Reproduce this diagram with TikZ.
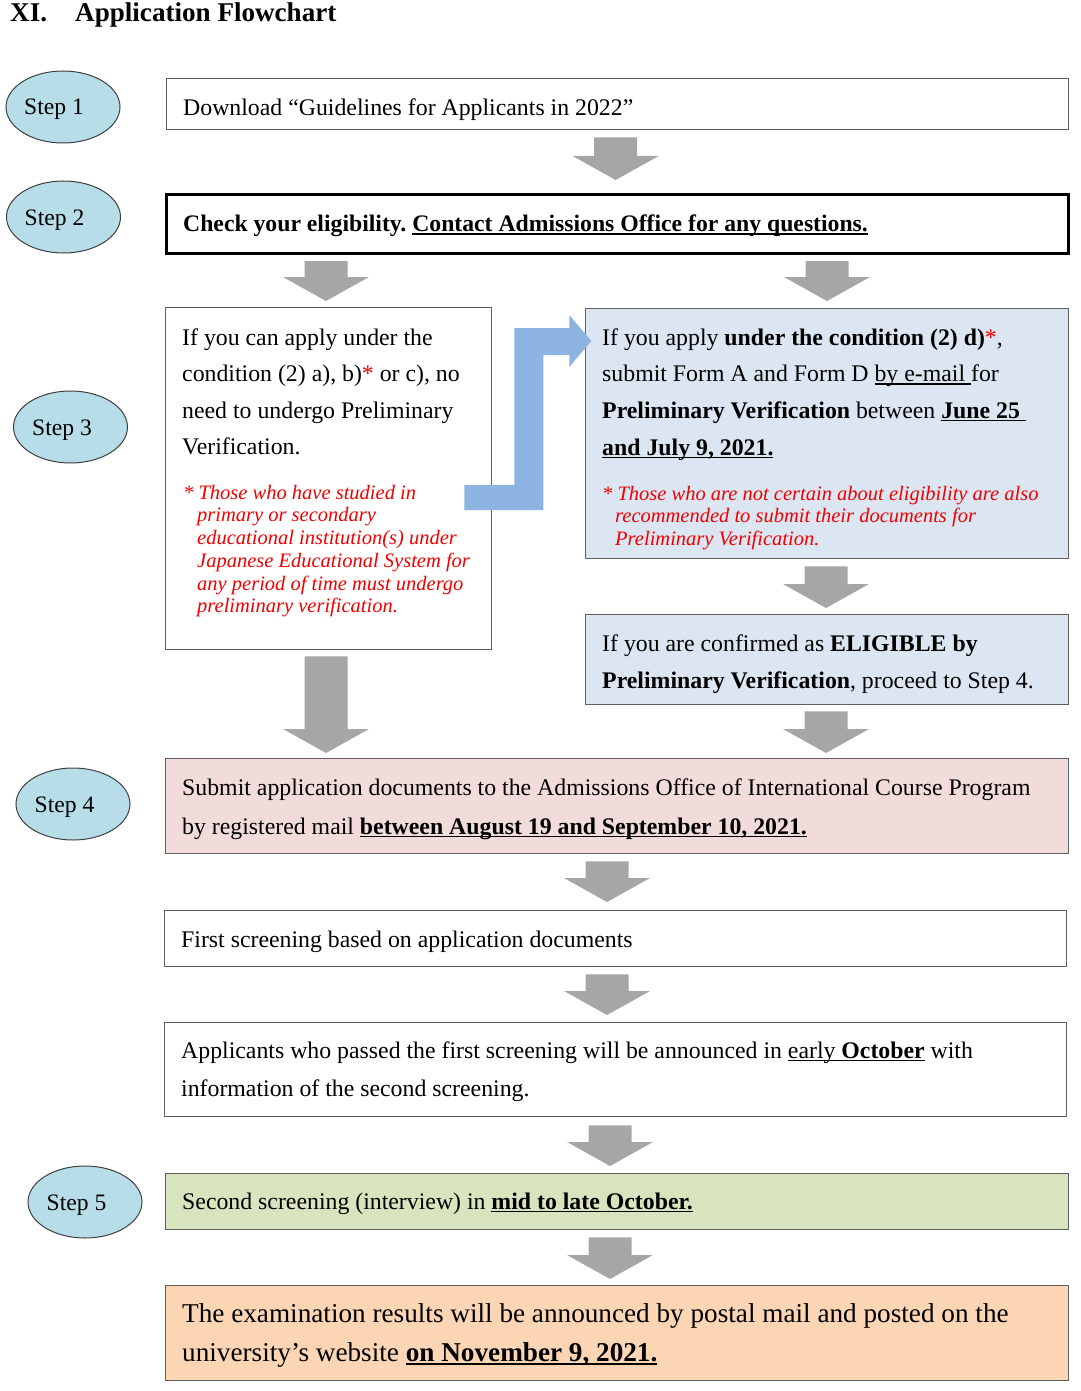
\documentclass[tikz,border=0pt]{standalone}
\usepackage{fontspec}
\setmainfont{Liberation Serif}
\usetikzlibrary{shapes.geometric,calc}
\frenchspacing
\definecolor{stepfill}{HTML}{B7DDE8}
\definecolor{stepline}{HTML}{404040}
\definecolor{boxline}{HTML}{606060}
\definecolor{bluefill}{HTML}{DCE6F2}
\definecolor{pinkfill}{HTML}{F2DCDB}
\definecolor{greenfill}{HTML}{D7E4BD}
\definecolor{orangefill}{HTML}{FCD5B5}
\definecolor{arrowgray}{HTML}{A6A6A6}
\definecolor{arrowblue}{HTML}{8DB3E2}
\definecolor{notered}{HTML}{F00000}
\newlength\myulw
\newcommand\myul[1]{\settowidth{\myulw}{#1}\rlap{\rule[-0.13em]{\myulw}{0.065em}}#1}
\newcommand\blockarrow[2]{%
  \fill[arrowgray] let \p1=#1, \p2=#2 in
    (\x1-21.5pt,\y1) -- (\x1+21.5pt,\y1) -- (\x1+21.5pt,\y2+24pt) -- (\x1+43pt,\y2+24pt)
    -- (\x1,\y2) -- (\x1-43pt,\y2+24pt) -- (\x1-21.5pt,\y2+24pt) -- cycle;}
\tikzset{
  stepnode/.style={ellipse, draw=stepline, line width=1pt, fill=stepfill, minimum width=114pt,
    minimum height=72pt, inner sep=0pt},
  steptxt/.style={inner sep=0pt, anchor=base, font=\fontsize{23.6}{28}\selectfont},
  box/.style={draw=boxline, line width=1.3pt, inner sep=0pt, anchor=north west},
  txt/.style={inner sep=0pt, anchor=base west, font=\fontsize{23.8}{28}\selectfont\frenchspacing},
  bigtxt/.style={inner sep=0pt, anchor=base west, font=\fontsize{27.2}{32}\selectfont\frenchspacing},
  note/.style={inner sep=0pt, anchor=base west, text=notered, font=\fontsize{20.5}{24}\selectfont\itshape\frenchspacing},
}
\begin{document}
\begin{tikzpicture}[x=1pt,y=-1pt]
\useasboundingbox (0,0) rectangle (1080,1391);
% title
\node[inner sep=0pt, anchor=base west, font=\fontsize{27.1}{30}\selectfont\bfseries] (tA) at (10,22) {XI.};
\node[inner sep=0pt, anchor=base west, font=\fontsize{27.1}{30}\selectfont\bfseries] (tB) at (75,22) {Application Flowchart};
% steps
\node[stepnode] (s1) at (63,107) {};
\node[stepnode] (s2) at (63.5,217) {};
\node[stepnode] (s3) at (70.5,427) {};
\node[stepnode] (s4) at (73,804) {};
\node[stepnode] (s5) at (85,1202) {};
\node[steptxt] (s1t) at ($(s1.center)+(-9,8)$) {Step 1};
\node[steptxt] (s2t) at ($(s2.center)+(-9,8)$) {Step 2};
\node[steptxt] (s3t) at ($(s3.center)+(-8.5,8)$) {Step 3};
\node[steptxt] (s4t) at ($(s4.center)+(-8.5,8)$) {Step 4};
\node[steptxt] (s5t) at ($(s5.center)+(-8.5,8)$) {Step 5};
% boxes
\node[box, minimum width=902pt, minimum height=51pt] (b1) at (166,78) {};
\node[box, draw=black, line width=3pt, minimum width=902pt, minimum height=59pt] (b2) at (165,193) {};
\node[box, minimum width=326pt, minimum height=342pt] (b3l) at (165,307) {};
\node[box, fill=bluefill, minimum width=483pt, minimum height=250pt] (b3r) at (585,308) {};
\node[box, fill=bluefill, minimum width=483pt, minimum height=90pt] (be) at (585,614) {};
\node[box, fill=pinkfill, minimum width=903pt, minimum height=95pt] (b4) at (165,758) {};
\node[box, minimum width=902pt, minimum height=56pt] (b5) at (164,910) {};
\node[box, minimum width=902pt, minimum height=94pt] (b6) at (164,1022) {};
\node[box, fill=greenfill, minimum width=903pt, minimum height=56pt] (b7) at (165,1173) {};
\node[box, fill=orangefill, minimum width=903pt, minimum height=95pt] (b8) at (165,1285) {};
% gray arrows
\blockarrow{($(b1.south)+(-2,7)$)}{($(b2.north)+(-2,-13)$)}
\blockarrow{($(b2.south west)+(161,6)$)}{($(b3l.north west)+(161,-6)$)}
\blockarrow{($(b2.south west)+(662,6)$)}{($(b3r.north west)+(241,-7)$)}
\blockarrow{($(b3r.south west)+(241,7)$)}{($(be.north west)+(241,-6)$)}
\blockarrow{($(b3l.south west)+(161,6)$)}{($(b4.north west)+(161,-5)$)}
\blockarrow{($(be.south west)+(241,6)$)}{($(b4.north west)+(661,-5)$)}
\blockarrow{($(b4.south west)+(442,7)$)}{($(b5.north west)+(443,-8)$)}
\blockarrow{($(b5.south west)+(443,7)$)}{($(b6.north west)+(443,-7)$)}
\blockarrow{($(b6.south west)+(446,8)$)}{($(b7.north west)+(445,-7)$)}
\blockarrow{($(b7.south west)+(445,7)$)}{($(b8.north west)+(445,-6)$)}
% blue arrow from left box to right box
\coordinate (ba) at ($(b3l.north east)+(-28,178)$);
\fill[arrowblue] (ba) -- ++(50,0) -- ++(0,-157) -- ++(55,0) -- ++(0,-13) -- ++(22,26)
  -- ++(-22,26) -- ++(0,-12) -- ++(-26,0) -- ++(0,155) -- ++(-79,0) -- cycle;
% texts
\node[txt] (t1) at (183,115.5) {Download “Guidelines for Applicants in 2022”};
\node[txt, font=\fontsize{23.7}{28}\selectfont\bfseries\frenchspacing] (t2) at (183,231.5) {Check your eligibility. \myul{Contact Admissions Office for any questions.}};
\node[txt] (t3a) at (182,345) {If you can apply under the};
\node[txt] (t3b) at (182,381.5) {condition (2) a), b)\textcolor{notered}{*} or c), no};
\node[txt] (t3c) at (182,418) {need to undergo Preliminary};
\node[txt] (t3d) at (182,454.5) {Verification.};
\node[note] (n1a) at (183,499) {* Those who have studied in};
\node[note] (n1b) at (197,521.7) {primary or secondary};
\node[note] (n1c) at (197,544.5) {educational institution(s) under};
\node[note] (n1d) at (197,567.3) {Japanese Educational System for};
\node[note] (n1e) at (197,590) {any period of time must undergo};
\node[note] (n1f) at (197,612.7) {preliminary verification.};
\node[txt] (t4a) at (602,345) {If you apply \textbf{under the condition (2) d)}\textcolor{notered}{*},};
\node[txt] (t4b) at (602,381.7) {submit Form A and Form D \myul{by e-mail }for};
\node[txt] (t4c) at (602,418) {\textbf{Preliminary Verification} between \myul{\textbf{June 25 }}};
\node[txt] (t4d) at (602,455) {\myul{\textbf{and July 9, 2021.}}};
\node[note] (n2a) at (602,500) {* Those who are not certain about eligibility are also};
\node[note] (n2b) at (615,522.5) {recommended to submit their documents for};
\node[note] (n2c) at (615,545) {Preliminary Verification.};
\node[txt] (t5a) at (602,651.7) {If you are confirmed as \textbf{ELIGIBLE by}};
\node[txt] (t5b) at (602,688) {\textbf{Preliminary Verification}, proceed to Step 4.};
\node[txt] (t6a) at (182,795) {Submit application documents to the Admissions Office of International Course Program};
\node[txt] (t6b) at (182,834) {by registered mail \myul{\textbf{between August 19 and September 10, 2021.}}};
\node[txt] (t7) at (181,947) {First screening based on application documents};
\node[txt] (t8a) at (181,1058) {Applicants who passed the first screening will be announced in \myul{early \textbf{October}} with};
\node[txt] (t8b) at (181,1096) {information of the second screening.};
\node[txt] (t9) at (182,1209) {Second screening (interview) in \myul{\textbf{mid to late October.}}};
\node[bigtxt] (t10a) at (182,1322) {The examination results will be announced by postal mail and posted on the};
\node[bigtxt] (t10b) at (182,1361) {university’s website \myul{\textbf{on November 9, 2021.}}};
\end{tikzpicture}
\end{document}
